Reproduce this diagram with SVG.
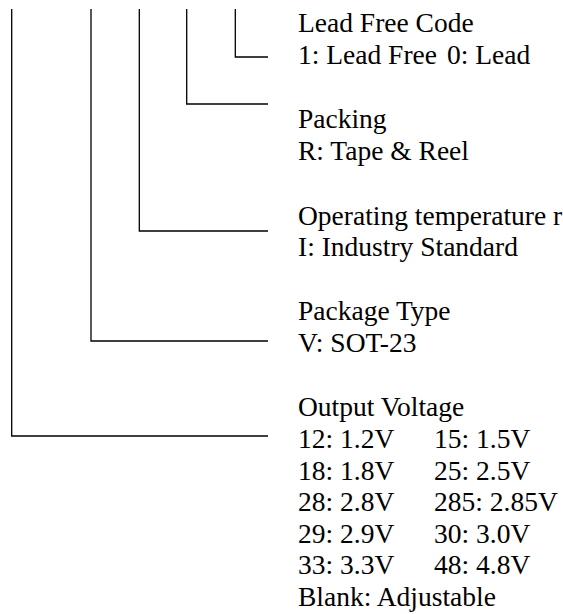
<svg xmlns="http://www.w3.org/2000/svg" width="563" height="614" viewBox="0 0 563 614">
<style>
.c{fill:none;stroke:#000;stroke-width:1.3}
text{font-family:"Liberation Serif","Times New Roman",serif;font-size:27.5px;fill:#000}
</style>
<rect width="563" height="614" fill="#fff"/>
<g id="connectors">
<polyline class="c" points="235.3,9 235.3,57 268,57"/>
<polyline class="c" points="186.7,9 186.7,104 268,104"/>
<polyline class="c" points="139.3,9 139.3,231 268,231"/>
<polyline class="c" points="91,9 91,341 268,341"/>
<polyline class="c" points="11.7,9 11.7,436 268,436"/>
</g>
<g id="lead-free">
<text x="298" y="32">Lead Free Code</text>
<text x="298" y="63.5">1: Lead Free</text>
<text x="447" y="63.5">0: Lead</text>
</g>
<g id="packing">
<text x="298" y="128">Packing</text>
<text x="298" y="160">R: Tape &amp; Reel</text>
</g>
<g id="temperature">
<text x="298" y="224.5">Operating temperature range</text>
<text x="298" y="256">I: Industry Standard</text>
</g>
<g id="package">
<text x="298" y="320">Package Type</text>
<text x="298" y="352">V: SOT-23</text>
</g>
<g id="voltage">
<text x="298" y="416">Output Voltage</text>
<text x="298" y="448">12: 1.2V</text>
<text x="434" y="448">15: 1.5V</text>
<text x="298" y="479.5">18: 1.8V</text>
<text x="434" y="479.5">25: 2.5V</text>
<text x="298" y="511">28: 2.8V</text>
<text x="434" y="511">285: 2.85V</text>
<text x="298" y="542.5">29: 2.9V</text>
<text x="434" y="542.5">30: 3.0V</text>
<text x="298" y="574">33: 3.3V</text>
<text x="434" y="574">48: 4.8V</text>
<text x="298" y="605.5">Blank: Adjustable</text>
</g>
</svg>
